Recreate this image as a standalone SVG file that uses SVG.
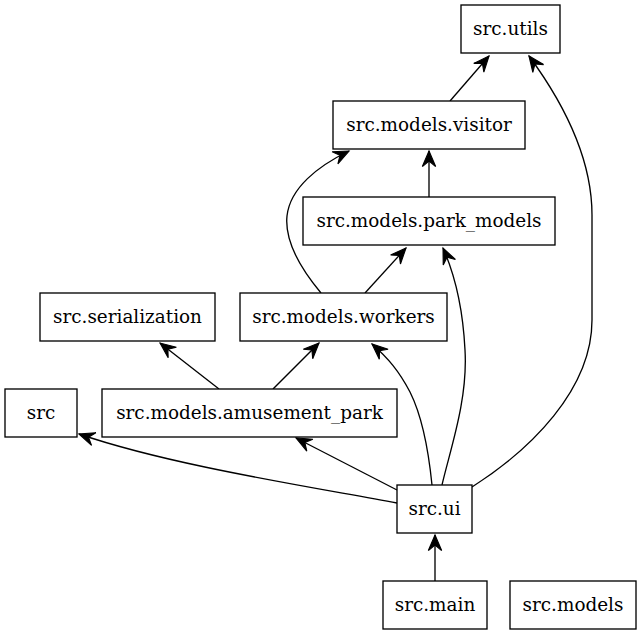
<svg xmlns="http://www.w3.org/2000/svg" width="641" height="635" viewBox="0 0 641 635">
<style>
.node rect{fill:#fff;stroke:#000;stroke-width:1.33}
.node text{font-family:"DejaVu Serif",serif;font-size:18.4px;text-anchor:middle;fill:#000}
.edge path{fill:none;stroke:#000;stroke-width:1.33;marker-end:url(#vee)}
</style>
<defs>
<marker id="vee" markerUnits="userSpaceOnUse" markerWidth="20" markerHeight="20" viewBox="-16 -8 18 16" refX="0" refY="0" orient="auto">
<path d="M0,0 L-14,-6 L-9,0 L-14,6 Z" fill="#000" stroke="#000" stroke-width="1"/>
</marker>
</defs>
<rect width="641" height="635" fill="#fff"/>
<g id="edges" class="edge">
<path d="M450,101 L489,56"/>
<path d="M429,197 L429,151"/>
<path d="M321,293 C306,275 284,245 287,216 C290,188 318,166 349,151"/>
<path d="M365,293 L406,248"/>
<path d="M442,485 C450,450 468,400 465,350 C463,310 455,275 443,248"/>
<path d="M472,487 C530,450 592,390 592,320 L592,215 C592,160 565,105 529,56"/>
<path d="M219,389 L160,343"/>
<path d="M273,389 L319,343"/>
<path d="M432,485 C429,455 424,420 410,392 C399,371 388,358 372,344"/>
<path d="M397,490 L296,438"/>
<path d="M397,503 C300,485 170,465 79,434"/>
<path d="M435,581 L435,535"/>
</g>
<g id="n_utils" class="node"><rect x="461" y="5" width="99" height="48"/><text x="510.5" y="34.5">src.utils</text></g>
<g id="n_visitor" class="node"><rect x="333" y="101" width="192" height="48"/><text x="429" y="130.5">src.models.visitor</text></g>
<g id="n_park_models" class="node"><rect x="303" y="197" width="252" height="48"/><text x="429" y="226.5">src.models.park_models</text></g>
<g id="n_serialization" class="node"><rect x="40" y="293" width="175" height="48"/><text x="127.5" y="322.5">src.serialization</text></g>
<g id="n_workers" class="node"><rect x="240" y="293" width="207" height="48"/><text x="343.5" y="322.5">src.models.workers</text></g>
<g id="n_src" class="node"><rect x="5" y="389" width="72" height="48"/><text x="41" y="418.5">src</text></g>
<g id="n_amusement_park" class="node"><rect x="102" y="389" width="295" height="48"/><text x="249.5" y="418.5">src.models.amusement_park</text></g>
<g id="n_ui" class="node"><rect x="397" y="485" width="75" height="48"/><text x="434.5" y="514.5">src.ui</text></g>
<g id="n_main" class="node"><rect x="383" y="581" width="104" height="48"/><text x="435" y="610.5">src.main</text></g>
<g id="n_models" class="node"><rect x="510" y="581" width="126" height="48"/><text x="573" y="610.5">src.models</text></g>
</svg>
